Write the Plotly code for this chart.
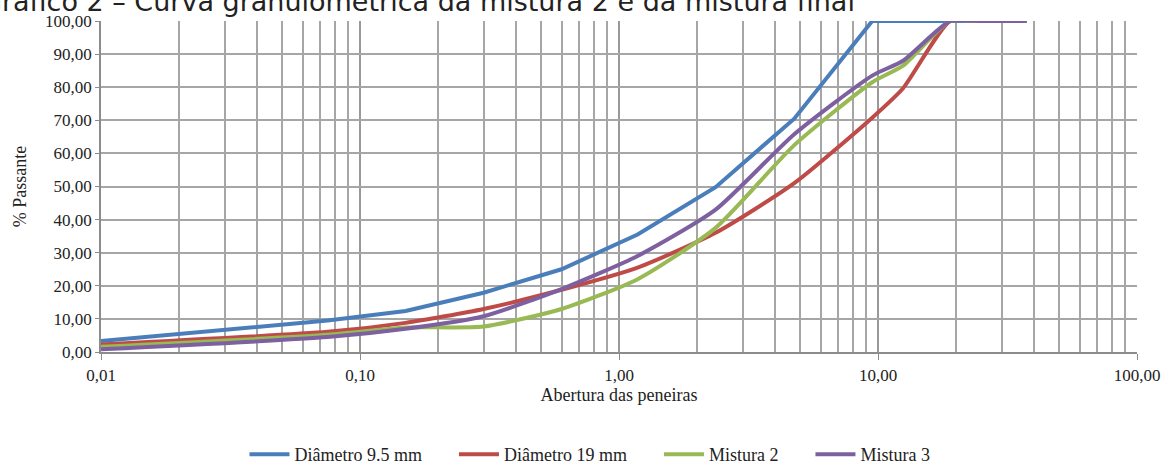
import plotly.graph_objects as go

# Sieve openings (mm)
aberturas = [0.01, 0.075, 0.15, 0.3, 0.6, 1.18, 2.36, 4.75, 9.5, 12.5, 19, 25, 37.5]

diam_9_5 = [3.3, 9.5, 12.4, 17.9, 25.0, 35.5, 49.8, 70.5, 100, 100, 100, 100, 100]
diam_19 = [2.3, 6.1, 8.8, 13.0, 18.8, 25.5, 36.0, 51.0, 70.8, 79.7, 100, 100, 100]
mistura_2 = [1.6, 5.2, 7.4, 7.7, 13.0, 22.0, 37.5, 62.5, 81.5, 86.5, 100, 100, 100]
mistura_3 = [0.8, 4.5, 7.0, 10.8, 19.0, 29.0, 43.0, 65.8, 83.5, 88.0, 100, 100, 100]

series_names = ["Diâmetro 9.5 mm", "Diâmetro 19 mm", "Mistura 2", "Mistura 3"]
series_colors = ["#4A7EBB", "#BE4B48", "#98B954", "#7D60A0"]

x_tickvals = [0.01, 0.1, 1, 10, 100]
x_ticktext = ["0,01", "0,10", "1,00", "10,00", "100,00"]
y_tickvals = [0, 10, 20, 30, 40, 50, 60, 70, 80, 90, 100]

minor_vals = [m * 10 ** e for e in range(-2, 2) for m in range(2, 10)]

NB = "\u00a0"
legend_pad = [6, 6, 6, 0]

fig = go.Figure()
all_series = [diam_9_5, diam_19, mistura_2, mistura_3]
for i, (name, vals, col) in enumerate(zip(series_names, all_series, series_colors)):
    fig.add_trace(go.Scatter(
        x=aberturas, y=vals, mode="lines", name=name + NB * legend_pad[i],
        line=dict(color=col, width=4,
                  shape="linear" if i == 0 else "spline",
                  smoothing=0.6),
    ))

serif = "Liberation Serif"
grid_col = "#A6A6A6"
txt_col = "#222222"

fig.update_layout(
    width=1166, height=466,
    margin=dict(l=101, r=29, t=21, b=114, autoexpand=False),
    paper_bgcolor="white", plot_bgcolor="white",
    separators=", ",
    font=dict(family=serif, size=16, color=txt_col),
    showlegend=True,
    legend=dict(orientation="h", x=0.472, xanchor="center", y=-0.366, yanchor="bottom",
                font=dict(family=serif, size=18, color=txt_col),
                itemwidth=40, tracegroupgap=0),
    xaxis=dict(
        type="log", range=[-2, 2],
        tickmode="array", tickvals=x_tickvals, ticktext=x_ticktext,
        showgrid=True, gridcolor="#999999", gridwidth=1.5,
        showline=True, linecolor="#8C8C8C", linewidth=1.5,
        ticks="outside", ticklen=6, tickcolor="#8C8C8C",
        ticklabelstandoff=1,
        tickfont=dict(family=serif, size=17, color=txt_col),
        minor=dict(tickmode="array", tickvals=minor_vals, showgrid=True,
                   gridcolor=grid_col, gridwidth=1.5, ticks=""),
        title=dict(text="Abertura das peneiras", font=dict(family=serif, size=18, color=txt_col),
                   standoff=2),
        zeroline=False,
    ),
    yaxis=dict(
        range=[0, 100], tickmode="array", tickvals=y_tickvals,
        tickformat=".2f",
        showgrid=True, gridcolor=grid_col, gridwidth=1.5,
        showline=True, linecolor="#8C8C8C", linewidth=1.5,
        ticks="outside", ticklen=4, tickcolor="#8C8C8C",
        tickfont=dict(family=serif, size=17, color=txt_col),
        title=dict(text="% Passante", font=dict(family=serif, size=18, color=txt_col),
                   standoff=14),
        zeroline=False,
    ),
)

fig.add_annotation(
    text="Gráfico 2 – Curva granulométrica da mistura 2 e da mistura final",
    xref="paper", yref="paper", x=-0.118, y=1.007, xanchor="left", yanchor="bottom",
    showarrow=False, font=dict(family="DejaVu Sans", size=27, color=txt_col),
)

fig.write_html("out.html")
